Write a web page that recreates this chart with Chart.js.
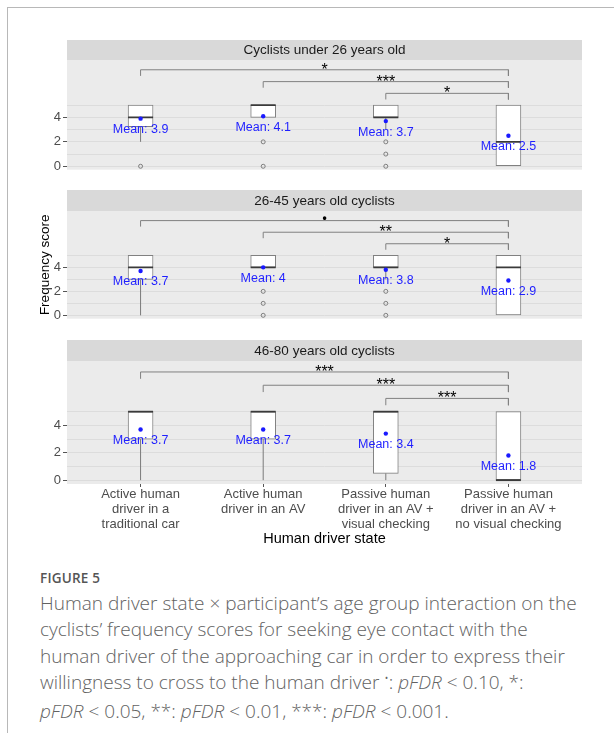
<!DOCTYPE html>
<html>
<head>
<meta charset="utf-8">
<script src="https://cdn.jsdelivr.net/npm/chart.js@4.4.1/dist/chart.umd.min.js"></script>
<style>
  html, body { margin:0; padding:0; background:#fff; width:614px; height:733px; overflow:hidden; }
  #frame { position:absolute; left:7px; top:7px; width:640px; height:760px; border-left:1px solid #b8b8b8; border-top:1px solid #b8b8b8; }
  canvas { position:absolute; left:0; }
  #figlabel { position:absolute; left:40px; top:569px; font-family:"Open Sans","Noto Sans",sans-serif; font-size:13.5px; font-weight:600; color:#555; letter-spacing:0.2px; white-space:nowrap; }
  #caption { position:absolute; left:40px; top:590px; font-family:"Open Sans","Noto Sans",sans-serif; font-size:19px; font-weight:300; line-height:26.3px; color:#626262; white-space:nowrap; }
  #caption i { font-style:italic; }
  .bul { font-size:12px; position:relative; top:-6px; }
</style>
</head>
<body>
<div id="frame"></div>
<canvas id="c1" width="614" height="144" style="top:40px;width:614px;height:144px"></canvas>
<canvas id="c2" width="614" height="143" style="top:190px;width:614px;height:143px"></canvas>
<canvas id="c3" width="614" height="210" style="top:340px;width:614px;height:210px"></canvas>
<div id="figlabel">FIGURE 5</div>
<div id="caption">Human driver state × participant’s age group interaction on the<br>cyclists’ frequency scores for seeking eye contact with the<br>human driver of the approaching car in order to express their<br>willingness to cross to the human driver <span class="bul">•</span>: <i>pFDR</i> &lt; 0.10, *:<br><i>pFDR</i> &lt; 0.05, **: <i>pFDR</i> &lt; 0.01, ***: <i>pFDR</i> &lt; 0.001.</div>
<script>
// ---------- data ----------
const categories = [
  ["Active human", "driver in a", "traditional car"],
  ["Active human", "driver in an AV"],
  ["Passive human", "driver in an AV +", "visual checking"],
  ["Passive human", "driver in an AV +", "no visual checking"]
];
const catPositions = [1, 2, 3, 4];
const panelTitles = ["Cyclists under 26 years old", "26-45 years old cyclists", "46-80 years old cyclists"];
const yTickLabels = [0, 2, 4];
const yGridValues = [0, 1, 2, 3, 4, 5];
const xAxisTitle = "Human driver state";
const yAxisTitle = "Frequency score";

// Cyclists under 26
const u26Low = [2, 4, 3, 0];
const u26Q1 = [3.25, 4, 4, 0];
const u26Median = [4, 5, 4, 2];
const u26Q3 = [5, 5, 5, 5];
const u26High = [5, 5, 5, 5];
const u26Mean = [3.9, 4.1, 3.7, 2.5];
const u26Outliers = [[0], [2, 0], [2, 1, 0], []];
const u26Sig = ["*", "***", "*"];

// 26-45 years old
const midLow = [0, 4, 3, 0];
const midQ1 = [3, 4, 4, 0];
const midMedian = [4, 4, 4, 4];
const midQ3 = [5, 5, 5, 5];
const midHigh = [5, 5, 5, 5];
const midMean = [3.7, 4, 3.8, 2.9];
const midOutliers = [[], [2, 1, 0], [2, 1, 0], []];
const midSig = ["•", "**", "*"];

// 46-80 years old
const oldLow = [0, 0, 0, 0];
const oldQ1 = [3, 3, 0.5, 0];
const oldMedian = [5, 5, 5, 0];
const oldQ3 = [5, 5, 5, 5];
const oldHigh = [5, 5, 5, 5];
const oldMean = [3.7, 3.7, 3.4, 1.8];
const oldOutliers = [[], [], [], []];
const oldSig = ["***", "***", "***"];

// comparison brackets (group pairs and heights in score units)
const bracketFrom = [1, 2, 3];
const bracketTo = [4, 4, 4];
const bracketLevel = [7.9, 6.93, 5.97];
const bracketTip = 0.5;

// ---------- chart ----------
const FONT = '"Liberation Sans", Arial, Helvetica, sans-serif';
Chart.defaults.font.family = FONT;

const panelPlugin = {
  id: 'panel',
  beforeDraw(chart, args, o) {
    const { ctx, chartArea: a } = chart;
    ctx.save();
    ctx.fillStyle = '#ebebeb';
    ctx.fillRect(a.left, a.top, a.right - a.left, a.bottom - a.top);
    ctx.fillStyle = '#d9d9d9';
    ctx.fillRect(a.left, 0, a.right - a.left, a.top);
    ctx.fillStyle = '#1a1a1a';
    ctx.font = '13.5px ' + FONT;
    ctx.textAlign = 'center';
    ctx.textBaseline = 'middle';
    ctx.fillText(o.title, (a.left + a.right) / 2, a.top / 2 + 0.5);
    ctx.restore();
  },
  afterDatasetsDraw(chart, args, o) {
    const { ctx } = chart;
    const xs = chart.scales.x, ys = chart.scales.y;
    ctx.save();
    ctx.textAlign = 'center';
    ctx.fillStyle = '#1f1fff';
    ctx.font = '12.5px ' + FONT;
    ctx.textBaseline = 'middle';
    o.mean.forEach((m, i) => {
      ctx.fillText('Mean: ' + m, xs.getPixelForValue(catPositions[i]), ys.getPixelForValue(m) + 11);
    });
    ctx.fillStyle = '#000';
    ctx.textBaseline = 'alphabetic';
    o.sig.forEach((s, i) => {
      const x = (xs.getPixelForValue(bracketFrom[i]) + xs.getPixelForValue(bracketTo[i])) / 2;
      const y = ys.getPixelForValue(bracketLevel[i]);
      if (s === '•') {
        ctx.font = 'bold 12px ' + FONT;
        ctx.fillText(s, x, y + 1.5);
      } else {
        ctx.font = '16px ' + FONT;
        ctx.fillText(s, x, y + 5);
      }
    });
    ctx.restore();
  }
};

function makePanel(id, title, low, q1, med, q3, high, mean, outl, sig, opt) {
  const whisk = [];
  catPositions.forEach((c, i) => {
    if (low[i] < q1[i]) whisk.push({ x: c, y: low[i] }, { x: c, y: q1[i] }, { x: c, y: null });
    if (high[i] > q3[i]) whisk.push({ x: c, y: q3[i] }, { x: c, y: high[i] }, { x: c, y: null });
  });
  const outPts = [];
  outl.forEach((arr, i) => arr.forEach(v => outPts.push({ x: catPositions[i], y: v })));
  const bracketPts = [];
  bracketFrom.forEach((f, i) => {
    bracketPts.push(
      { x: f, y: bracketLevel[i] - bracketTip },
      { x: f, y: bracketLevel[i] },
      { x: bracketTo[i], y: bracketLevel[i] },
      { x: bracketTo[i], y: bracketLevel[i] - bracketTip },
      { x: bracketTo[i], y: null }
    );
  });

  const datasets = [
    { type: 'scatter', data: catPositions.map((c, i) => ({ x: c, y: mean[i] })), pointRadius: 2.2, pointBackgroundColor: '#1a1aff', pointBorderWidth: 0, order: 1 },
    { type: 'scatter', data: catPositions.map((c, i) => ({ x: c, y: med[i] })), pointStyle: 'line', pointRadius: 12.5, pointBorderColor: '#3a3a3a', pointBorderWidth: 1.8, order: 2 },
    { type: 'scatter', data: outPts, pointStyle: 'circle', pointRadius: 2, pointBackgroundColor: 'rgba(0,0,0,0)', pointBorderColor: '#666', pointBorderWidth: 0.8, order: 3 },
    { type: 'bar', data: catPositions.map((c, i) => ({ x: c, y: [q1[i], q3[i]] })), backgroundColor: '#ffffff', borderColor: '#808080', borderWidth: 1, borderSkipped: false, barThickness: 25, order: 4 },
    { type: 'line', data: whisk, borderColor: '#7a7a7a', borderWidth: 1, pointRadius: 0, spanGaps: false, order: 5 },
    { type: 'line', data: bracketPts, borderColor: '#808080', borderWidth: 1, pointRadius: 0, spanGaps: false, order: 6 }
  ];

  return new Chart(document.getElementById(id), {
    type: 'bar',
    data: { datasets },
    plugins: [panelPlugin],
    options: {
      responsive: false,
      animation: false,
      devicePixelRatio: 1,
      events: [],
      layout: { padding: { top: opt.stripH, right: 32, bottom: 0, left: 0 } },
      plugins: { legend: { display: false }, tooltip: { enabled: false }, panel: { title, mean, sig } },
      scales: {
        x: {
          type: 'linear', min: 0.4, max: 4.6, offset: false,
          display: opt.showX,
          afterBuildTicks: ax => { ax.ticks = catPositions.map(v => ({ value: v })); },
          afterFit: s => { s.height = opt.xH || 0; s.paddingLeft = 0; s.paddingRight = 0; },
          ticks: { callback: v => categories[v - 1], color: '#4d4d4d', font: { size: 13, lineHeight: 1.15 }, padding: 0, maxRotation: 0, autoSkip: false },
          grid: { display: true, offset: false, drawOnChartArea: false, tickLength: 3, tickColor: '#555', tickWidth: 1 },
          border: { display: false },
          title: { display: true, text: xAxisTitle, color: '#000', font: { size: 14.5 }, padding: { top: 0, bottom: 2 } }
        },
        y: {
          type: 'linear', min: -0.28, max: 8.7,
          afterBuildTicks: ax => { ax.ticks = yGridValues.map(v => ({ value: v })); },
          afterFit: s => { s.width = 67; s.paddingTop = 0; s.paddingBottom = 0; },
          ticks: { callback: v => yTickLabels.includes(v) ? String(v) : '', color: '#4d4d4d', font: { size: 13 }, padding: 2 },
          grid: {
            color: '#dcdcdc', lineWidth: 1, tickLength: 4,
            tickColor: c => (c.tick && yTickLabels.includes(c.tick.value)) ? '#555' : 'rgba(0,0,0,0)'
          },
          border: { display: false },
          title: { display: !!opt.showYTitle, text: yAxisTitle, color: '#000', font: { size: 13.5 }, padding: { top: 37, bottom: 0 } }
        }
      }
    }
  });
}

makePanel('c1', panelTitles[0], u26Low, u26Q1, u26Median, u26Q3, u26High, u26Mean, u26Outliers, u26Sig, { stripH: 20, showX: false });
makePanel('c2', panelTitles[1], midLow, midQ1, midMedian, midQ3, midHigh, midMean, midOutliers, midSig, { stripH: 21, showX: false, showYTitle: true });
makePanel('c3', panelTitles[2], oldLow, oldQ1, oldMedian, oldQ3, oldHigh, oldMean, oldOutliers, oldSig, { stripH: 21, showX: true, xH: 66 });
</script>
</body>
</html>
